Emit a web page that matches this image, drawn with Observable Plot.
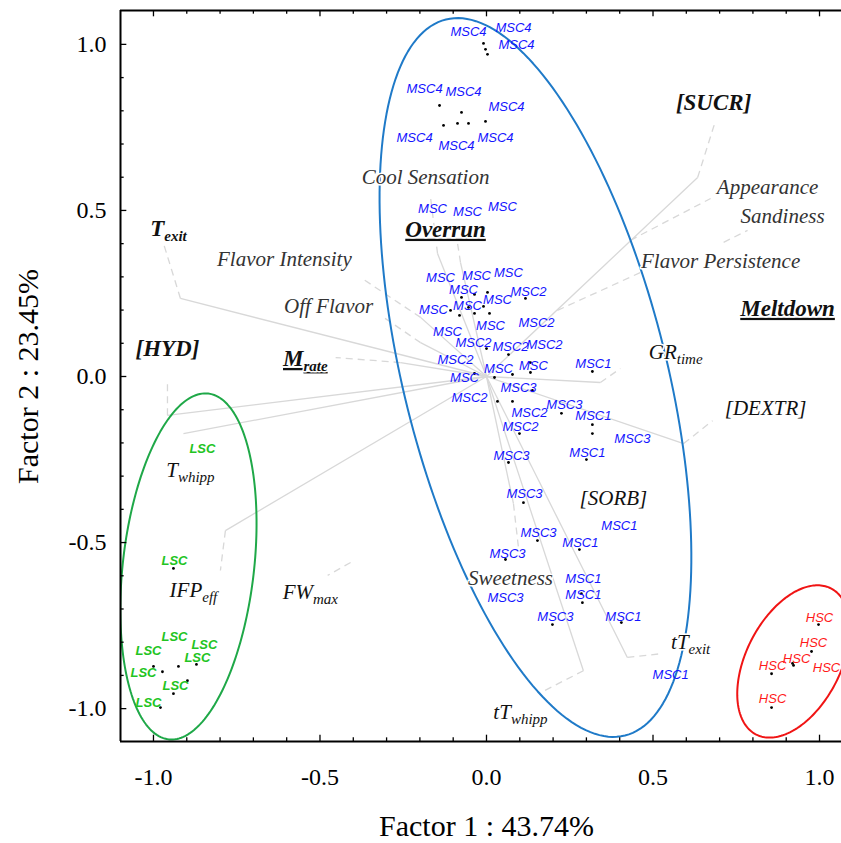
<!DOCTYPE html>
<html><head><meta charset="utf-8">
<script src="https://cdn.jsdelivr.net/npm/d3@7"></script>
<script src="https://cdn.jsdelivr.net/npm/@observablehq/plot@0.6"></script>
<style>body{margin:0;background:#fff} #chart svg{display:block}</style>
</head><body><div id="chart"></div>
<script>
// ---------- DATA ----------
const xTickLabels = [-1.0, -0.5, 0.0, 0.5, 1.0];
const yTickLabels = [-1.0, -0.5, 0.0, 0.5, 1.0];
const xTitle = "Factor 1 : 43.74%";
const yTitle = "Factor 2 : 23.45%";

// sample scores (black dots)
const dotsMSC4 = [[-0.009,1.003],[-0.003,0.985],[0.003,0.970],[-0.141,0.816],[-0.075,0.795],[-0.003,0.768],[-0.129,0.756],[-0.087,0.762],[-0.054,0.762]];
const dotsMSC = [[-0.075,0.238],[-0.036,0.247],[0.003,0.253],[0.117,0.235],[-0.108,0.199],[-0.054,0.208],[-0.009,0.211],[-0.081,0.184],[-0.036,0.190],[0.009,0.190],[0.0,0.084],[0.066,0.066],[0.132,0.042],[0.132,0.012],[0.078,0.006],[0.024,-0.003],[-0.036,0.009],[0.318,0.015],[0.138,-0.042],[0.033,-0.075],[0.078,-0.075],[0.225,-0.111],[0.318,-0.145],[0.318,-0.172],[0.099,-0.172],[0.300,-0.250],[0.066,-0.259],[0.111,-0.380],[0.153,-0.494],[0.057,-0.551],[0.198,-0.747],[0.279,-0.521],[0.285,-0.654],[0.288,-0.681],[0.405,-0.741]];
const dotsLSC = [[-0.940,-0.578],[-1.0,-0.873],[-0.973,-0.889],[-0.925,-0.873],[-0.871,-0.867],[-0.898,-0.916],[-0.940,-0.955],[-0.979,-0.997]];
const dotsHSC = [[0.997,-0.747],[0.976,-0.828],[0.919,-0.864],[0.922,-0.870],[0.856,-0.895],[0.856,-0.997]];

// sample labels
const labelsMSC4 = [[-0.054,1.039],[0.081,1.051],[0.090,1.0],[-0.186,0.867],[-0.069,0.858],[0.060,0.813],[-0.216,0.720],[-0.090,0.696],[0.027,0.720]];
const labelsMSC = [["MSC",-0.162,0.506],["MSC",-0.057,0.497],["MSC",0.048,0.512],["MSC",-0.138,0.298],["MSC",-0.030,0.304],["MSC",0.066,0.313],["MSC",-0.069,0.262],["MSC2",0.126,0.256],["MSC",-0.159,0.202],["MSC",-0.057,0.214],["MSC",0.033,0.232],["MSC",0.012,0.154],["MSC2",0.150,0.163],["MSC",-0.117,0.133],["MSC2",-0.039,0.102],["MSC2",0.072,0.090],["MSC2",0.174,0.096],["MSC2",-0.093,0.051],["MSC",0.036,0.024],["MSC",0.141,0.033],["MSC",-0.066,-0.003],["MSC1",0.321,0.039],["MSC3",0.096,-0.033],["MSC2",-0.051,-0.063],["MSC3",0.234,-0.084],["MSC2",0.129,-0.108],["MSC1",0.321,-0.117],["MSC2",0.102,-0.151],["MSC3",0.438,-0.187],["MSC1",0.303,-0.229],["MSC3",0.075,-0.238],["MSC3",0.114,-0.352],["MSC3",0.156,-0.470],["MSC3",0.063,-0.533],["MSC3",0.057,-0.666],["MSC3",0.207,-0.723],["MSC1",0.399,-0.449],["MSC1",0.282,-0.500],["MSC1",0.291,-0.608],["MSC1",0.291,-0.657],["MSC1",0.411,-0.723],["MSC1",0.553,-0.898]];
const labelsLSC = [[-0.853,-0.217],[-0.937,-0.554],[-0.937,-0.783],[-1.015,-0.825],[-0.847,-0.807],[-0.868,-0.846],[-1.030,-0.892],[-0.934,-0.931],[-1.015,-0.982]];
const labelsHSC = [[1.0,-0.726],[0.982,-0.801],[0.931,-0.849],[0.859,-0.870],[1.021,-0.877],[0.859,-0.970]];

// variable loadings (vector tips), dashed leaders and label anchors
const varNames = ["T_exit","Flavor Intensity","Off Flavor","Cool Sensation","Overrun","M_rate","[HYD]","T_whipp","IFP_eff","FW_max","[SUCR]","Appearance","Sandiness","Flavor Persistence","Meltdown","GR_time","[DEXTR]","[SORB]","Sweetness","tT_exit","tT_whipp"];
const varTip = [[-0.919,0.235],[-0.198,0.178],[-0.198,0.102],[-0.147,0.370],[-0.078,0.343],[-0.258,0.042],[-0.958,-0.117],[-0.910,-0.172],[-0.784,-0.464],null,[0.634,0.599],null,null,null,null,[0.342,-0.018],[0.592,-0.202],null,[0.081,-0.383],[0.423,-0.846],[0.291,-0.886]];
const varLeadFrom = [[-0.919,0.235],[-0.198,0.178],[-0.198,0.102],[-0.147,0.370],[-0.078,0.343],[-0.258,0.042],[-0.958,-0.117],null,[-0.784,-0.464],[-0.408,-0.560],[0.634,0.599],[0.432,0.410],[0.712,0.404],[0.213,0.199],null,[0.342,-0.018],[0.592,-0.202],null,[0.081,-0.383],[0.423,-0.846],[0.291,-0.886]];
const varLeadTo = [[-0.970,0.401],[-0.378,0.298],[-0.309,0.178],[-0.168,0.539],[-0.087,0.401],[-0.453,0.057],[-0.958,-0.012],null,[-0.799,-0.584],[-0.477,-0.599],[0.688,0.771],[0.673,0.536],[0.784,0.440],[0.462,0.313],null,[0.402,0.024],[0.679,-0.133],null,[0.096,-0.515],[0.529,-0.834],[0.162,-0.952]];
const varLabel = [[-0.955,0.446],[-0.607,0.352],[-0.474,0.211],[-0.183,0.599],[-0.123,0.443],[-0.544,0.054],[-0.958,0.084],[-0.889,-0.283],[-0.880,-0.645],[-0.529,-0.651],[0.682,0.825],[0.844,0.569],[0.889,0.482],[0.703,0.346],[0.904,0.205],[0.568,0.072],[0.838,-0.096],[0.381,-0.367],[0.072,-0.608],[0.613,-0.801],[0.102,-1.012]];

// group ellipses: centre, semi-major, semi-minor, major-axis tilt from vertical (deg, + = top to the right)
const ellGroups = ["MSC","LSC","HSC"];
const ellCenter = [[0.147,-0.003],[-0.895,-0.572],[0.922,-0.858]];
const ellSemiMajor = [1.111, 0.524, 0.247];
const ellSemiMinor = [0.395, 0.197, 0.142];
const ellTilt = [-14, 6.5, 27];

// ---------- STYLE ----------
const ellColor = {MSC: "#1f7ac8", LSC: "#1fa848", HSC: "#f01414"};
const boldVars = new Set(["T_exit","[HYD]","M_rate","Overrun","Meltdown","[SUCR]"]);
const underlineVars = new Set(["Overrun","Meltdown","M_rate"]);
const sensoryVars = new Set(["Flavor Intensity","Off Flavor","Cool Sensation","Appearance","Sandiness","Flavor Persistence","Sweetness"]);
const X0 = -1.099, X1 = 1.066, Y0 = -1.099, Y1 = 1.102;

// ---------- BUILD ----------
const ellLines = ellGroups.map((g, k) => {
  const t = ellTilt[k] * Math.PI / 180;
  const u = [Math.sin(t), Math.cos(t)], v = [Math.cos(t), -Math.sin(t)];
  const pts = d3.range(0, 201).map(i => {
    const a = i / 200 * 2 * Math.PI;
    return [ellCenter[k][0] + ellSemiMajor[k]*Math.cos(a)*u[0] + ellSemiMinor[k]*Math.sin(a)*v[0],
            ellCenter[k][1] + ellSemiMajor[k]*Math.cos(a)*u[1] + ellSemiMinor[k]*Math.sin(a)*v[1]];
  });
  return Plot.line(pts, {x: d => d[0], y: d => d[1], stroke: ellColor[g], strokeWidth: 2, clip: true});
});

const idx = d3.range(varNames.length);
const solidIdx = idx.filter(i => varTip[i]);
const dashIdx = idx.filter(i => varLeadFrom[i] && varLeadTo[i]);
const labIdxBold = idx.filter(i => boldVars.has(varNames[i]));
const labIdxSens = idx.filter(i => sensoryVars.has(varNames[i]));
const labIdxReg = idx.filter(i => !boldVars.has(varNames[i]) && !sensoryVars.has(varNames[i]));

const minor = d3.range(-10, 11).map(i => i / 10);
const isMajor = d => Math.abs(d * 2 - Math.round(d * 2)) < 1e-6;
const tl = d => isMajor(d) ? 0.019 : 0.011;

const varText = (ids, weight, fill) => Plot.text(ids, {
  x: i => varLabel[i][0], y: i => varLabel[i][1], text: i => varNames[i],
  fontFamily: "Liberation Serif", fontStyle: "italic", fontWeight: weight,
  fontSize: weight === "bold" ? 23 : 21, fill, stroke: "white", strokeWidth: 3,
  textAnchor: "middle", lineAnchor: "middle"
});

const sansLab = (data, text, fill, weight) => Plot.text(data, {
  x: d => d[d.length - 2], y: d => d[d.length - 1], text,
  fontFamily: "Liberation Sans", fontStyle: "italic", fontWeight: weight, fontSize: 13, fill,
  textAnchor: "middle", lineAnchor: "middle"
});

const plot = Plot.plot({
  width: 841, height: 843,
  marginLeft: 120, marginRight: 0, marginTop: 10, marginBottom: 102,
  x: {domain: [X0, X1], axis: null},
  y: {domain: [Y0, Y1], axis: null},
  style: {fontFamily: "Liberation Serif", background: "white", color: "black"},
  marks: [
    Plot.link(solidIdx, {x1: () => 0, y1: () => 0, x2: i => varTip[i][0], y2: i => varTip[i][1], stroke: "#d8d8d8", strokeWidth: 1.3}),
    Plot.link(dashIdx, {x1: i => varLeadFrom[i][0], y1: i => varLeadFrom[i][1], x2: i => varLeadTo[i][0], y2: i => varLeadTo[i][1], stroke: "#d8d8d8", strokeWidth: 1.3, strokeDasharray: "7,5"}),
    ...ellLines,
    Plot.dot([...dotsMSC4, ...dotsMSC, ...dotsLSC, ...dotsHSC], {x: d => d[0], y: d => d[1], r: 1.4, fill: "black", stroke: null}),
    sansLab(labelsMSC4, () => "MSC4", "#1414ff", "normal"),
    sansLab(labelsMSC, d => d[0], "#1414ff", "normal"),
    sansLab(labelsLSC, () => "LSC", "#22c422", "bold"),
    sansLab(labelsHSC, () => "HSC", "#ff1a1a", "normal"),
    varText(labIdxSens, "normal", "#333333"),
    varText(labIdxReg, "normal", "#111111"),
    varText(labIdxBold, "bold", "#111111"),
    // frame (left, top, bottom)
    Plot.ruleX([X0], {y1: Y0, y2: Y1, stroke: "black", strokeWidth: 2}),
    Plot.ruleY([Y0, Y1], {x1: X0, x2: X1, stroke: "black", strokeWidth: 2}),
    // inward ticks
    Plot.ruleX(minor, {x: d => d, y1: Y0, y2: d => Y0 + tl(d), stroke: "black", strokeWidth: 1.3}),
    Plot.ruleX(minor, {x: d => d, y1: Y1, y2: d => Y1 - tl(d), stroke: "black", strokeWidth: 1.3}),
    Plot.ruleY(minor, {y: d => d, x1: X0, x2: d => X0 + tl(d), stroke: "black", strokeWidth: 1.3}),
    Plot.axisX({ticks: xTickLabels, tickSize: 0, tickPadding: 26, tickFormat: d => d.toFixed(1), fontSize: 24, label: null, anchor: "bottom"}),
    Plot.axisY({ticks: yTickLabels, tickSize: 0, tickPadding: 14, tickFormat: d => d.toFixed(1), fontSize: 24, label: null, anchor: "left"}),
    Plot.text([xTitle], {x: () => 0, frameAnchor: "bottom", dy: 85, text: d => d, fontSize: 30, textAnchor: "middle", lineAnchor: "middle"}),
    Plot.text([yTitle], {y: () => 0, frameAnchor: "left", dx: -92, rotate: -90, text: d => d, fontSize: 30, textAnchor: "middle", lineAnchor: "middle"})
  ]
});
document.getElementById("chart").appendChild(plot);

// subscripts and underlines for variable labels
const NS = "http://www.w3.org/2000/svg";
plot.querySelectorAll("text").forEach(t => {
  const s = t.textContent;
  if (!varNames.includes(s)) return;
  const m = s.match(/^([^_]+)_(.+)$/);
  const ul = underlineVars.has(s);
  t.textContent = "";
  const base = document.createElementNS(NS, "tspan");
  base.textContent = m ? m[1] : s;
  if (ul) base.setAttribute("text-decoration", "underline");
  t.appendChild(base);
  if (m) {
    const sub = document.createElementNS(NS, "tspan");
    sub.textContent = m[2];
    sub.setAttribute("font-size", "15");
    sub.setAttribute("dy", "5");
    if (ul) sub.setAttribute("text-decoration", "underline");
    t.appendChild(sub);
  }
});
</script></body></html>
